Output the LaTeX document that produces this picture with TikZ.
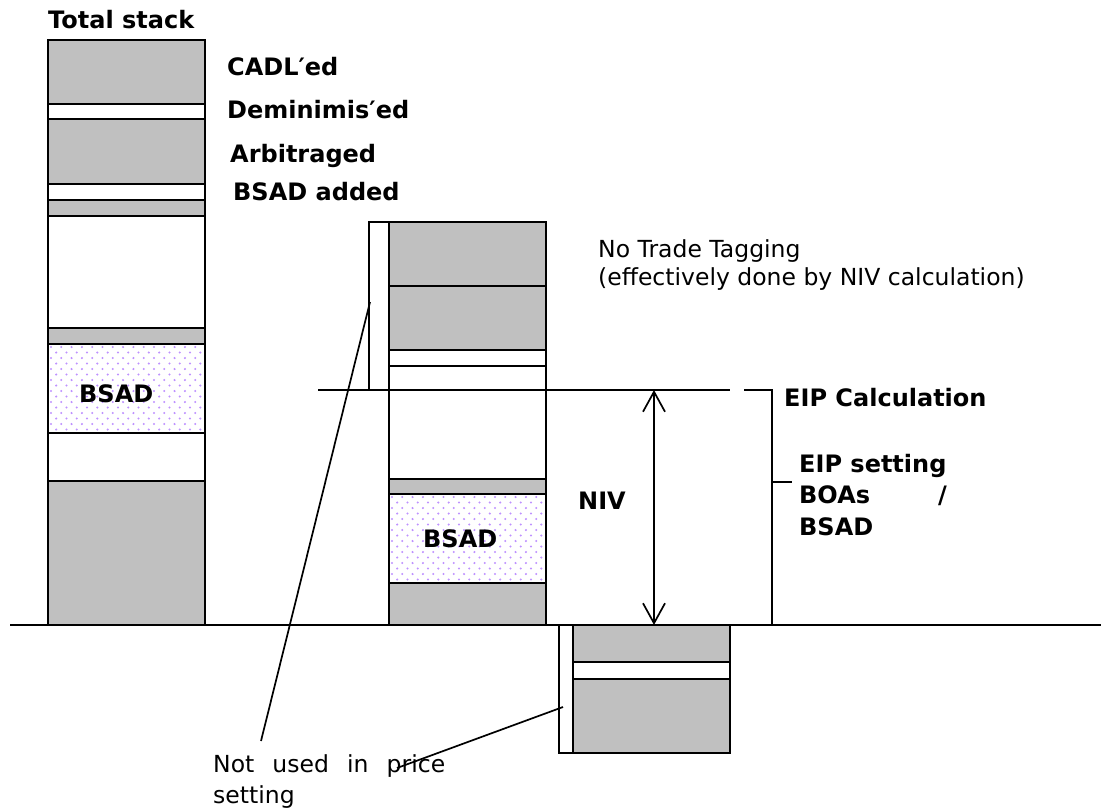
\documentclass[tikz,border=0pt]{standalone}
\usepackage{fontspec}
\setmainfont{DejaVu Sans}
\usetikzlibrary{arrows.meta}
\definecolor{boxgray}{RGB}{192,192,192}
\definecolor{dotcol}{RGB}{190,145,255}
\newcommand\bsaddots[4]{%
  \begin{scope}
    \clip (#1,#2) rectangle (#3,#4);
    \foreach \ii in {0,...,17} {
      \foreach \jj in {0,...,16} {
        \fill[dotcol] ({#1+3+\jj*10.3+mod(\ii,2)*5.15},{#2+3+\ii*5.5}) circle (1.15pt);
      }
    }
  \end{scope}}
\begin{document}
\begin{tikzpicture}[x=1pt,y=-1pt,
  grayblk/.style={fill=boxgray,draw=black,line width=2pt},
  whiteblk/.style={fill=white,draw=black,line width=2pt},
  outline/.style={draw=black,line width=2pt},
  lbl/.style={font=\fontsize{24}{28}\selectfont\bfseries,anchor=base west,inner sep=0pt},
  txt/.style={font=\fontsize{23.5}{28}\selectfont,anchor=base west,inner sep=0pt},
  ln/.style={line width=1.7pt},
  dblarrow/.style={{Straight Barb[length=20pt,width=22pt]}-{Straight Barb[length=20pt,width=22pt]}}]
\useasboundingbox (0,0) rectangle (1101,809);

% ---------- Total stack ----------
\path[grayblk]  (48,40)  rectangle (205,104);
\path[whiteblk] (48,104) rectangle (205,119);
\path[grayblk]  (48,119) rectangle (205,184);
\path[whiteblk] (48,184) rectangle (205,200);
\path[grayblk]  (48,200) rectangle (205,216);
\path[whiteblk] (48,216) rectangle (205,328);
\path[grayblk]  (48,328) rectangle (205,344);
\bsaddots{48}{344}{205}{433}
\path[outline]  (48,344) rectangle (205,433);
\path[whiteblk] (48,433) rectangle (205,481);
\path[grayblk]  (48,481) rectangle (205,625);

\node[lbl] (total) at (48,28) {Total stack};
\node[lbl] (cadl) at (227,75) {CADL′ed};
\node[lbl] (demin) at (227,118) {Deminimis′ed};
\node[lbl] (arb) at (230,162) {Arbitraged};
\node[lbl] (bsadadd) at (233,200) {BSAD added};
\node[lbl] (bsadL) at (79,402) {BSAD};

% ---------- Middle stack ----------
\path[whiteblk] (369,222) rectangle (389,390);
\path[grayblk]  (389,222) rectangle (546,286);
\path[grayblk]  (389,286) rectangle (546,350);
\path[whiteblk] (389,350) rectangle (546,366);
\path[whiteblk] (389,366) rectangle (546,479);
\path[grayblk]  (389,479) rectangle (546,494);
\bsaddots{389}{494}{546}{583}
\path[outline]  (389,494) rectangle (546,583);
\path[grayblk]  (389,583) rectangle (546,625);

\node[lbl] (bsadM) at (423,547) {BSAD};
\node[lbl] (niv) at (578,509) {NIV};

\node[txt] (ntt) at (598,257) {No Trade Tagging};
\node[txt] (ntt2) at (598,285) {(effectively done by NIV calculation)};

% ---------- Bottom stack ----------
\path[whiteblk] (559,625) rectangle (573,753);
\path[grayblk]  (573,625) rectangle (730,662);
\path[whiteblk] (573,662) rectangle (730,679);
\path[grayblk]  (573,679) rectangle (730,753);

% ---------- Lines ----------
\coordinate (base0) at (10,625);
\coordinate (base1) at (1101,625);
\draw[line width=2.2pt] (base0) -- (base1);

\coordinate (eip0) at (318,390);
\coordinate (eip1) at (730,390);
\draw[ln] (eip0) -- (eip1);

\coordinate (br0) at (744,390);
\coordinate (br1) at (772,390);
\coordinate (br2) at (772,625);
\coordinate (brm) at (772,482);
\coordinate (brt) at (792,482);
\draw[ln] (br0) -- (br1) -- (br2);
\draw[ln] (brm) -- (brt);

\coordinate (arrtop) at (654,390);
\coordinate (arrbot) at (654,625);
\draw[ln,dblarrow] (arrtop) -- (arrbot);

\node[lbl] (eipc) at (784,406) {EIP Calculation};
\node[lbl] (eips) at (799,472) {EIP setting};
\node[lbl] (boas) at (799,503) {BOAs};
\node[lbl] (slash) at (938,503) {/};
\node[lbl] (bsadR) at (799,535) {BSAD};

% ---------- Not used in price setting ----------
\node[txt] (notused) at (213,772) {\makebox[232pt][s]{Not\hfill used\hfill in\hfill price}};
\node[txt] (setting) at (213,803) {setting};

\coordinate (lead1a) at (261,741);
\coordinate (lead1b) at (370,302);
\draw[ln] (lead1a) -- (lead1b);
\coordinate (lead2a) at (397,768);
\coordinate (lead2b) at (563,707);
\draw[ln] (lead2a) -- (lead2b);
\end{tikzpicture}
\end{document}
